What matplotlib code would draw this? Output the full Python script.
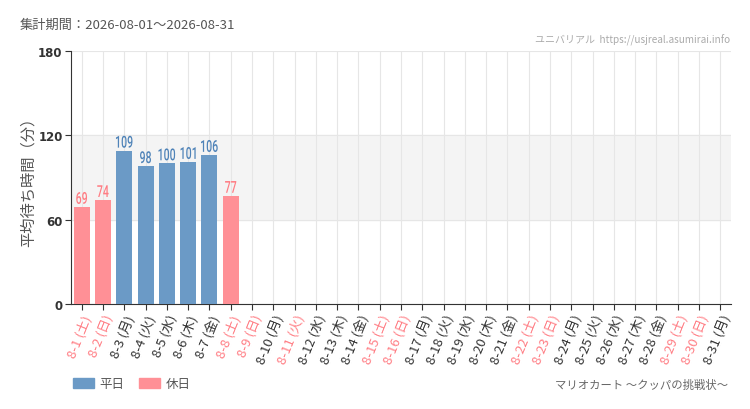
import matplotlib
matplotlib.use("Agg")
import matplotlib.pyplot as plt
from matplotlib.patches import Patch, PathPatch
from matplotlib.textpath import TextPath
from matplotlib.font_manager import FontProperties
from matplotlib.transforms import Affine2D

plt.rcParams['font.family'] = ['Noto Sans CJK JP', 'DejaVu Sans']

days = list(range(1, 32))
weekdays = ['土', '日', '月', '火', '水', '木', '金'] * 5
weekdays = weekdays[:31]
holidays = [1, 2, 8, 9, 11, 15, 16, 22, 23, 29, 30]
wait_days = [1, 2, 3, 4, 5, 6, 7, 8]
wait_vals = [69, 74, 109, 98, 100, 101, 106, 77]

blue = '#6b9ac6'
red = '#ff9096'
blue_txt = '#4f83b8'
red_txt = '#ff7d84'

DPI = 100
fig = plt.figure(figsize=(7.5, 4.1), dpi=DPI)
ax = fig.add_axes([71 / 750, 1 - 305 / 410, 660 / 750, 253 / 410])

ax.axhspan(60, 120, color='#f4f4f4', zorder=0)
ax.set_xlim(0.5, 31.5)
ax.set_ylim(0, 180)

# narrow value labels: squash a text path horizontally (size in pixels)
num_font = FontProperties(family='Roboto', weight='medium')
for d, v in zip(wait_days, wait_vals):
    hol = d in holidays
    ax.bar(d, v, width=0.75, color=red if hol else blue, zorder=3)
    tp = TextPath((0, 0), str(v), size=16.5, prop=num_font)
    ext = tp.get_extents()
    px, py = ax.transData.transform((d, v))
    sx = 0.64
    tr = Affine2D().translate(-ext.width / 2 - ext.x0, -ext.y0).scale(sx, 1.0).translate(px, py + 3)
    ax.add_artist(PathPatch(tr.transform_path(tp), transform=None, lw=0,
                            color=red_txt if hol else blue_txt, zorder=4))

ax.set_yticks([0, 60, 120, 180])
ax.set_yticklabels(['0', '60', '120', '180'], fontsize=8.5, color='#333333',
                   family=['DejaVu Sans'], fontweight='bold')
ax.set_xticks(days)
labels = [f'8-{d} ({w})' for d, w in zip(days, weekdays)]
ax.set_xticklabels(labels, rotation=68, ha='right', rotation_mode='anchor', fontsize=9.5)
for lbl, d in zip(ax.get_xticklabels(), days):
    lbl.set_color(red_txt if d in holidays else '#333333')

ax.grid(True, color='#e6e6e6', linewidth=0.8, zorder=1)
ax.set_axisbelow(True)
for s in ['top', 'right']:
    ax.spines[s].set_visible(False)
ax.spines['left'].set_color('#333333')
ax.spines['bottom'].set_color('#333333')
ax.tick_params(axis='both', length=4, color='#333333', pad=2)
ax.set_ylabel('平均待ち時間（分）', fontsize=11, color='#555555', labelpad=1)

fig.text(20 / 750, 1 - 25 / 410, '集計期間：2026-08-01〜2026-08-31', fontsize=9.5,
         color='#555555', va='center')
fig.text(730 / 750, 1 - 40 / 410, 'ユニバリアル  https://usjreal.asumirai.info', fontsize=7.2,
         color='#aaaaaa', ha='right', va='center')
fig.text(728 / 750, 1 - 385 / 410, 'マリオカート 〜クッパの挑戦状〜', fontsize=8.2,
         color='#666666', ha='right', va='center')

handles = [Patch(color=blue, label='平日'), Patch(color=red, label='休日')]
fig.legend(handles=handles, loc='center left', bbox_to_anchor=(64 / 750, 1 - 385 / 410),
           ncol=2, frameon=False, fontsize=9, handlelength=1.7, handleheight=0.8,
           columnspacing=1.2, handletextpad=0.4, borderpad=0.2, labelcolor='#555555')

fig.savefig('out.png', dpi=DPI)
